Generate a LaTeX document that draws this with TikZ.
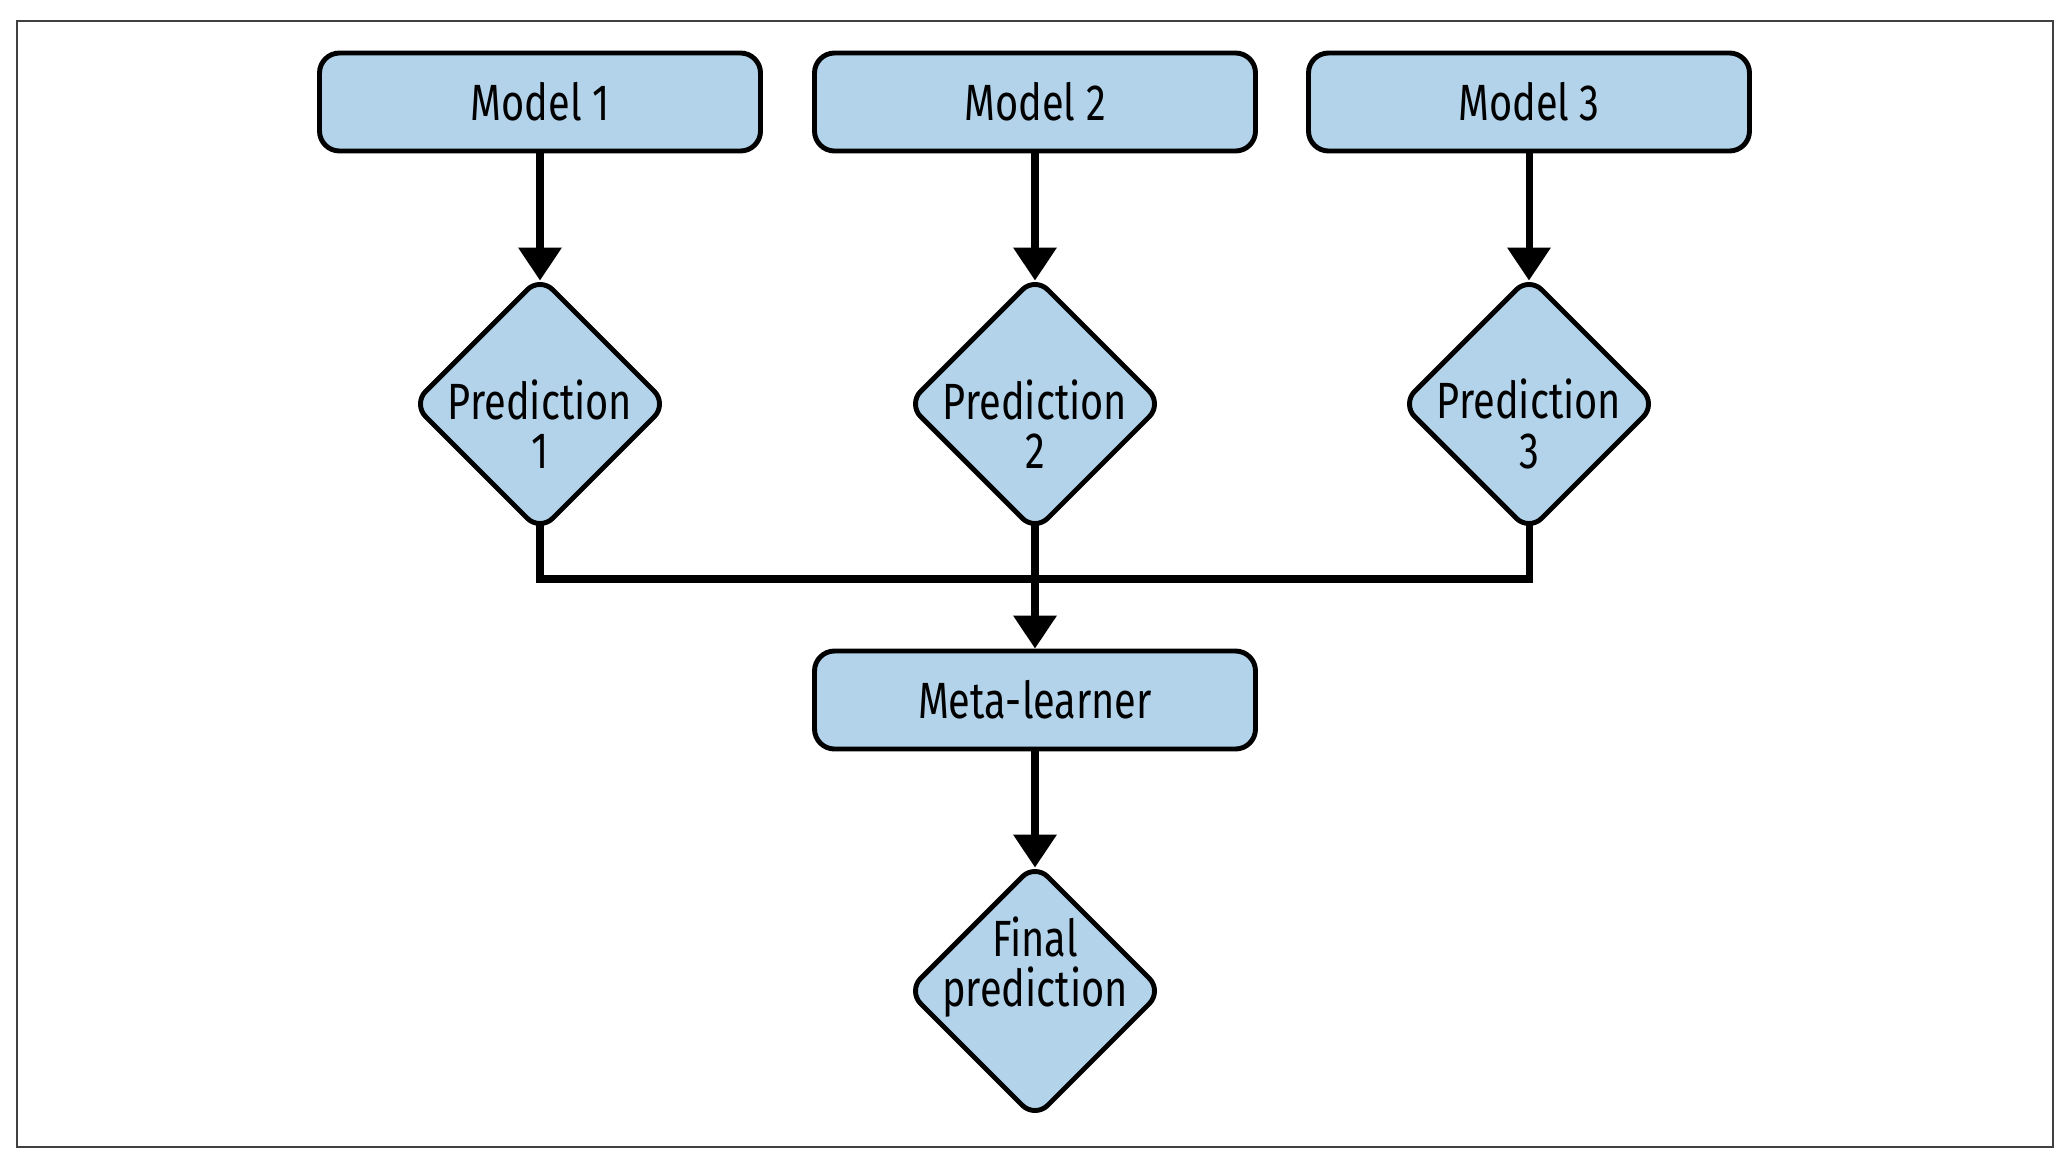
\documentclass[tikz,border=0pt]{standalone}
\usepackage{fontspec}
\setmainfont{Fira Sans}[FakeStretch=0.78]
\usetikzlibrary{arrows.meta,shapes.geometric,backgrounds}
\definecolor{boxblue}{HTML}{B2D3E9}
\tikzset{
	modelbox/.style={draw=black, line width=1.4pt, fill=boxblue, rounded corners=0.2cm,
		minimum width=4.41cm, minimum height=0.98cm, inner sep=0pt, font=\fontsize{14.5}{16}\selectfont},
	preddiamond/.style={draw=black, line width=1.4pt, fill=boxblue, diamond, rounded corners=0.18cm,
		minimum width=2.56cm, minimum height=2.56cm, inner sep=0pt},
	predtext/.style={align=center, inner sep=0pt, font=\fontsize{14.5}{14}\selectfont},
	flow/.style={line width=2pt, -{Triangle[width=0.42cm, length=0.33cm]}},
	busline/.style={line width=2pt}
}

\begin{document}
\begin{tikzpicture}
			%%%%% START %%%%%
			
			\useasboundingbox (0, 0) rectangle (20.72, -11.66);
			\draw[line width=0.6pt, color=black!75] (0.17, -0.21) rectangle (20.53, -11.47);
			
			\node[modelbox] (model1) at (5.40, -1.02) {Model 1};
			\node[modelbox] (model2) at (10.35, -1.02) {Model 2};
			\node[modelbox] (model3) at (15.29, -1.02) {Model 3};
			
			\node[preddiamond] (pred1) at (5.40, -4.04) {};
			\node[preddiamond] (pred2) at (10.35, -4.04) {};
			\node[preddiamond] (pred3) at (15.29, -4.04) {};
			\node[predtext] (pred1text) at (5.40, -4.24) {Prediction\\1};
			\node[predtext] (pred2text) at (10.35, -4.24) {Prediction\\2};
			\node[predtext] (pred3text) at (15.29, -4.24) {Prediction\\3};
			
			\node[modelbox] (meta) at (10.35, -7.00) {Meta-learner};
			\node[preddiamond] (final) at (10.35, -9.91) {};
			\node[predtext] (finaltext) at (10.35, -9.67) {Final\\prediction};
			
			% connectors go under the shapes
			\begin{pgfonlayer}{background}
			\draw[flow, shorten >=-0.07cm] (model1) -- (pred1);
			\draw[flow, shorten >=-0.07cm] (model2) -- (pred2);
			\draw[flow, shorten >=-0.07cm] (model3) -- (pred3);
			
			\coordinate (bus) at (10.35, -5.79);
			\draw[busline] (pred1.center) |- (bus) -| (pred3.center);
			\draw[flow] (pred2.center) -- (meta);
			\draw[flow, shorten >=-0.07cm] (meta) -- (final);
			\end{pgfonlayer}
			
			%%%%% END %%%%%
\end{tikzpicture}
\end{document}
